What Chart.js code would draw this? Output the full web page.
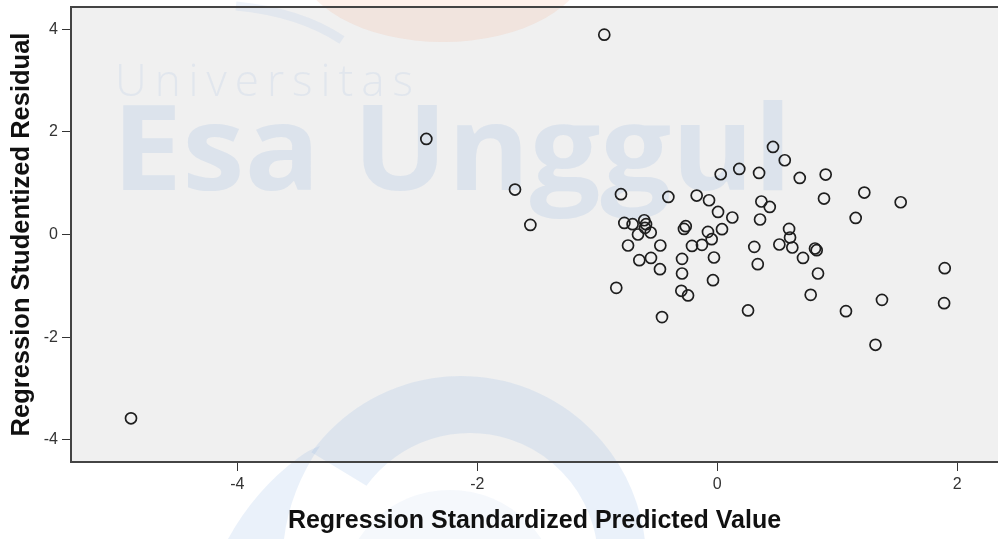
<!DOCTYPE html>
<html>
<head>
<meta charset="utf-8">
<script src="https://cdn.jsdelivr.net/npm/chart.js@4.4.1/dist/chart.umd.min.js"></script>
<style>
  html, body { margin: 0; padding: 0; background: #fff; overflow: hidden; }
  canvas { display: block; }
</style>
</head>
<body>
<canvas id="myChart" width="998" height="539"></canvas>
<script>
// values (standardized predicted vs studentized residual)
const predicted = [
  -4.886, -0.942, -2.425, -1.686, -1.558, -0.803, -0.408, 0.464, 0.028, 0.183,
  0.348, -0.172, -0.069, 0.006, 0.125, 0.367, 0.437, 0.356, -0.775, -0.706,
  -0.609, -0.594, -0.603, -0.555, -0.661, -0.744, -0.475, -0.263, -0.278, -0.211,
  -0.128, -0.078, -0.047, 0.039, 0.308, -0.650, -0.553, -0.478, -0.294, -0.294,
  -0.028, 0.337, -0.036, -0.842, -0.300, -0.244, 0.256, -0.461, 0.562, 0.687,
  0.903, 1.225, 1.528, 0.889, 1.153, 0.598, 0.606, 0.517, 0.625, 0.814,
  0.828, 0.714, 0.839, 1.895, 1.890, 1.372, 0.778, 1.072, 1.318
];
const residual = [
  -3.583, 3.895, 1.862, 0.876, 0.187, 0.785, 0.732, 1.706, 1.174, 1.278,
  1.200, 0.759, 0.668, 0.440, 0.331, 0.643, 0.537, 0.292, 0.226, 0.201,
  0.278, 0.201, 0.129, 0.039, 0.000, -0.214, -0.214, 0.162, 0.109, -0.222,
  -0.202, 0.051, -0.092, 0.103, -0.241, -0.500, -0.456, -0.676, -0.475, -0.760,
  -0.448, -0.578, -0.890, -1.040, -1.098, -1.188, -1.480, -1.610, 1.447, 1.102,
  1.168, 0.818, 0.629, 0.701, 0.323, 0.109, -0.058, -0.195, -0.253, -0.273,
  -0.306, -0.456, -0.760, -0.656, -1.338, -1.274, -1.176, -1.494, -2.150
];
const xTicks = [-4, -2, 0, 2];
const yTicks = [-4, -2, 0, 2, 4];
const xTitle = 'Regression Standardized Predicted Value';
const yTitle = 'Regression Studentized Residual';
const watermarkTop = 'Universitas';
const watermarkMain = 'Esa Unggul';

const FONT = 'Arial, "Liberation Sans", sans-serif';

// plot background, the faint watermark and the top frame line
const backdrop = {
  id: 'backdrop',
  beforeDraw(chart) {
    const {ctx, chartArea: a, width, height} = chart;
    ctx.save();
    ctx.fillStyle = '#fff';
    ctx.fillRect(0, 0, width, height);
    ctx.fillStyle = '#f0f0f0';
    ctx.fillRect(a.left, a.top, a.right - a.left, a.bottom - a.top);

    // logo pieces of the watermark
    ctx.fillStyle = 'rgba(245,150,100,0.13)';
    ctx.beginPath();
    ctx.ellipse(443, -40, 145, 82, 0, 0, Math.PI * 2);
    ctx.fill();

    ctx.strokeStyle = 'rgba(140,175,225,0.14)';
    ctx.lineWidth = 9;
    ctx.beginPath();
    ctx.moveTo(236, 6);
    ctx.quadraticCurveTo(300, 12, 342, 40);
    ctx.stroke();

    ctx.fillStyle = 'rgba(140,175,225,0.18)';
    ctx.beginPath();
    ctx.arc(461, 561, 185, Math.PI * 1.2, Math.PI * 2.1);
    ctx.arc(470, 561, 128, Math.PI * 2.1, Math.PI * 1.2, true);
    ctx.closePath();
    ctx.fill();

    ctx.beginPath();
    ctx.moveTo(298, 458);
    ctx.quadraticCurveTo(308, 450, 320, 446);
    ctx.quadraticCurveTo(290, 490, 284, 539);
    ctx.lineTo(228, 539);
    ctx.quadraticCurveTo(255, 490, 298, 458);
    ctx.closePath();
    ctx.fill();

    ctx.fillStyle = 'rgba(140,175,225,0.09)';
    ctx.beginPath();
    ctx.arc(450, 600, 110, Math.PI, Math.PI * 2);
    ctx.closePath();
    ctx.fill();

    ctx.fillStyle = 'rgba(150,180,225,0.16)';
    ctx.font = '300 44px "Open Sans", sans-serif';
    ctx.letterSpacing = '8px';
    ctx.textBaseline = 'alphabetic';
    ctx.fillText(watermarkTop, 115, 96);
    ctx.letterSpacing = '0px';

    ctx.fillStyle = 'rgba(150,180,225,0.22)';
    ctx.font = 'bold 118px "Open Sans", sans-serif';
    const w = ctx.measureText(watermarkMain).width;
    ctx.translate(112, 190);
    ctx.scale(680 / w, 1);
    ctx.fillText(watermarkMain, 0, 0);
    ctx.restore();
  },
  beforeDatasetsDraw(chart) {
    const {ctx, chartArea: a} = chart;
    ctx.save();
    ctx.strokeStyle = '#444';
    ctx.lineWidth = 2;
    ctx.beginPath();
    ctx.moveTo(a.left - 1, a.top);
    ctx.lineTo(a.right, a.top);
    ctx.stroke();
    ctx.restore();
  }
};

const points = predicted.map((x, i) => ({x: x, y: residual[i]}));

new Chart(document.getElementById('myChart'), {
  type: 'scatter',
  data: {
    datasets: [{
      data: points,
      pointRadius: 5.5,
      pointBorderWidth: 1.7,
      borderColor: '#1e1e1e',
      backgroundColor: 'rgba(0,0,0,0)',
      pointHoverRadius: 5.5
    }]
  },
  options: {
    responsive: false,
    animation: false,
    devicePixelRatio: 1,
    layout: { autoPadding: false, padding: { top: 7, left: 0, right: 0, bottom: 0 } },
    plugins: {
      legend: { display: false },
      tooltip: { enabled: false }
    },
    scales: {
      x: {
        type: 'linear',
        min: -5.386,
        max: 2.339,
        afterBuildTicks: axis => { axis.ticks = xTicks.map(v => ({value: v})); },
        afterFit: axis => {
          axis.height = 77;
          axis.paddingLeft = 0;
          axis.paddingRight = 0;
        },
        grid: { drawOnChartArea: false, drawTicks: true, tickLength: 9, tickColor: '#333', tickWidth: 1 },
        border: { display: true, color: '#444', width: 2 },
        ticks: { color: '#333', font: { family: FONT, size: 16 }, padding: 4, maxRotation: 0 },
        title: {
          display: true,
          text: xTitle,
          color: '#111',
          font: { family: FONT, size: 25, weight: 'bold', lineHeight: 1.2 },
          padding: { top: 0, bottom: 3 }
        }
      },
      y: {
        type: 'linear',
        min: -4.434,
        max: 4.434,
        afterBuildTicks: axis => { axis.ticks = yTicks.map(v => ({value: v})); },
        afterFit: axis => {
          axis.width = 71;
          axis.paddingTop = 0;
          axis.paddingBottom = 0;
        },
        grid: { drawOnChartArea: false, drawTicks: true, tickLength: 9, tickColor: '#333', tickWidth: 1 },
        border: { display: true, color: '#444', width: 2 },
        ticks: { color: '#333', font: { family: FONT, size: 16 }, padding: 4 },
        title: {
          display: true,
          text: yTitle,
          color: '#111',
          font: { family: FONT, size: 25.5, weight: 'bold', lineHeight: 1.2 },
          padding: { top: 7, bottom: 0 }
        }
      }
    }
  },
  plugins: [backdrop]
});
</script>
</body>
</html>
